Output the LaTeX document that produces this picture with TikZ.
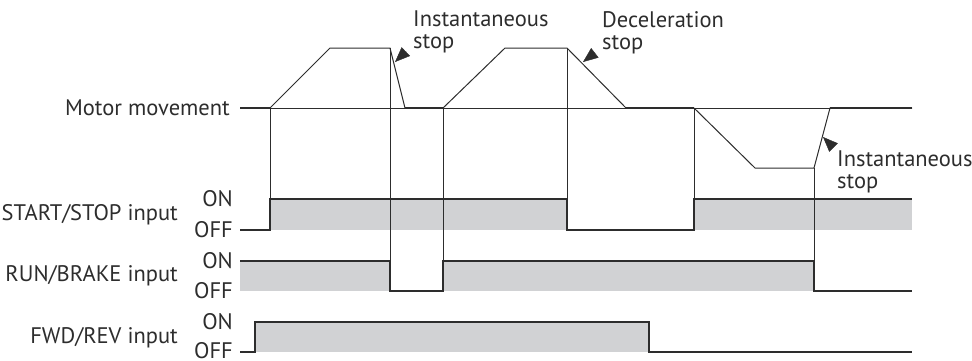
\documentclass[tikz,border=0pt]{standalone}
\usepackage{fontspec}
\setmainfont{PT Sans}
\usetikzlibrary{arrows.meta,positioning}
\definecolor{inkgray}{RGB}{45,45,45}
\definecolor{bandgray}{RGB}{209,210,212}

\begin{document}
\begin{tikzpicture}[
 x=1pt,y=-1pt,
 every node/.style={font=\fontsize{22.5}{22}\selectfont,text=inkgray,inner sep=0pt},
 lbl/.style={anchor=east},
 note/.style={anchor=north west,align=left},
 guide/.style={draw=inkgray,line width=0.8pt},
 signal/.style={draw=inkgray,line width=1.3pt},
 profile/.style={draw=inkgray,line width=1pt,line join=miter},
 rest/.style={draw=inkgray,line width=1.8pt},
 band/.style={fill=bandgray},
 pointer/.style={-{Triangle[length=15pt,width=12pt]},draw=inkgray,fill=inkgray}
]
\useasboundingbox (0,0) rectangle (972,360);
% labels
\node[lbl] (motor) at (230,108) {Motor movement};
\node[lbl] (ss) at (178,215) {START/STOP input};
\node[lbl] (rb) at (178,276) {RUN/BRAKE input};
\node[lbl] (fr) at (178,338) {FWD/REV input};
\node[lbl] (ssOn) at (233,199) {ON};
\node[lbl] (ssOff) at (233,230) {OFF};
\node[lbl] (rbOn) at (233,261) {ON};
\node[lbl] (rbOff) at (233,291) {OFF};
\node[lbl] (frOn) at (233,322) {ON};
\node[lbl] (frOff) at (233,351) {OFF};
% grey ON bands
\fill[band] (270,199) rectangle (567,230);
\fill[band] (694,199) rectangle (912,230);
\fill[band] (240,261) rectangle (390,291);
\fill[band] (443,261) rectangle (814,291);
\fill[band] (255,322) rectangle (649,352);
% timing guides
\draw[guide] (270,108) -- (912,108);
\draw[guide] (270,108) -- (270,230);
\draw[guide] (390,48) -- (390,291);
\draw[guide] (443,108) -- (443,291);
\draw[guide] (567,48) -- (567,230);
\draw[guide] (694,108) -- (694,230);
\draw[guide] (814,168) -- (814,291);
% motor speed
\coordinate (m0) at (240,108);
\draw[profile] (m0) -- (270,108) -- (330,48) -- (390,48) -- (405,108) -- (443,108)
 -- (505,48) -- (567,48) -- (626,108) -- (694,108) -- (755,168) -- (814,168)
 -- (830,108) -- (912,108);
\draw[rest] (m0) -- (270,108);
\draw[rest] (405,108) -- (443,108);
\draw[rest] (626,108) -- (694,108);
\draw[rest] (830,108) -- (912,108);
% inputs
\draw[signal] (240,230) -- (270,230) -- (270,199) -- (567,199) -- (567,230) -- (694,230) -- (694,199) -- (912,199);
\draw[signal] (240,261) -- (390,261) -- (390,291) -- (443,291) -- (443,261) -- (814,261) -- (814,291) -- (912,291);
\draw[signal] (240,352) -- (255,352) -- (255,322) -- (649,322) -- (649,352) -- (912,352);
% stop notes
\node[note] (stopA) at (413,11) {Instantaneous\\stop};
\node[note] (stopB) at (602,11) {Deceleration\\stop};
\node[note] (stopC) at (837,151) {Instantaneous\\stop};
\coordinate (tipA) at (395,62);
\coordinate (tipB) at (583,62);
\coordinate (tipC) at (823,137);
\draw[pointer] (406.2,51.2) -- (tipA);
\draw[pointer] (594.9,52.8) -- (tipB);
\draw[pointer] (833.6,147.6) -- (tipC);
\end{tikzpicture}
\end{document}
